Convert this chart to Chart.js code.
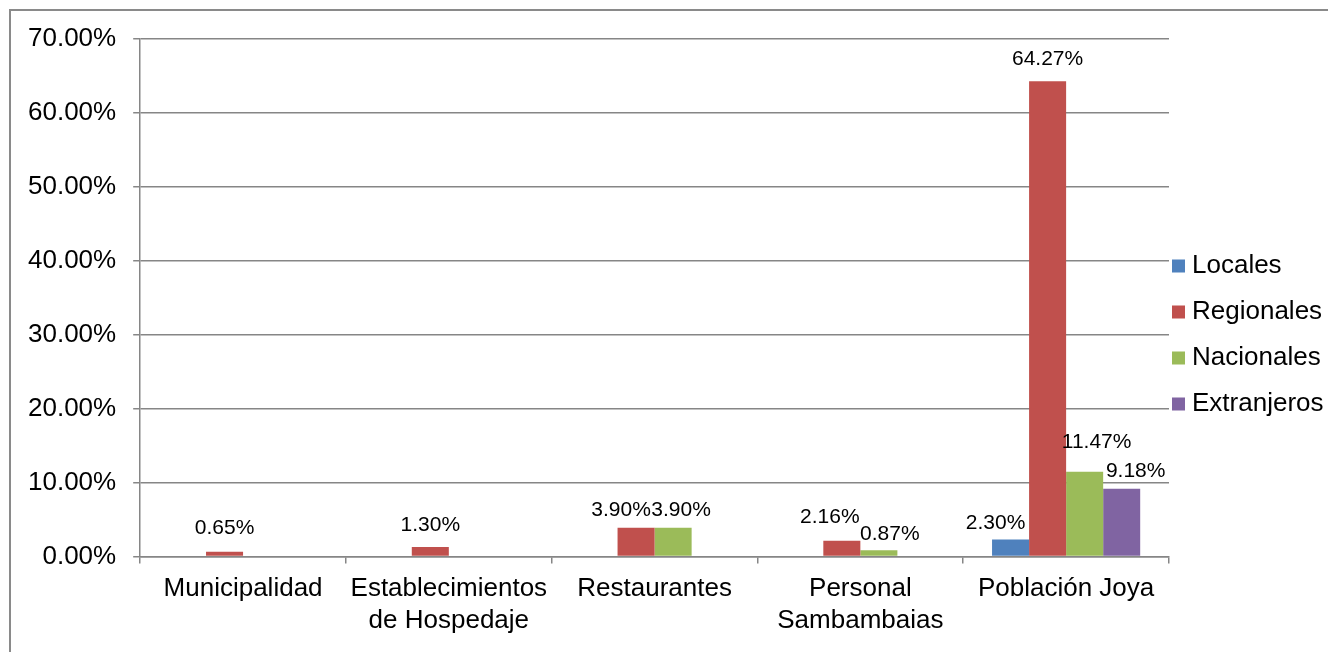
<!DOCTYPE html>
<html>
<head>
<meta charset="utf-8">
<script src="https://cdn.jsdelivr.net/npm/chart.js@4.4.1/dist/chart.umd.min.js"></script>
<style>
  html, body { margin: 0; padding: 0; background: #fff; overflow: hidden; }
  #frame { position: absolute; left: 9px; top: 9px; width: 2000px; height: 2000px;
           border-left: 2px solid #8a8a8a; border-top: 2px solid #8a8a8a; }
  #chart { position: absolute; left: 0; top: 0; }
</style>
</head>
<body>
<div id="frame"></div>
<canvas id="chart" width="1328" height="652"></canvas>
<script>
// datos
var categorias = ["Municipalidad", ["Establecimientos", "de Hospedaje"], "Restaurantes", ["Personal", "Sambambaias"], "Población Joya"];
var locales     = [0, 0, 0, 0, 2.30];
var regionales  = [0.65, 1.30, 3.90, 2.16, 64.27];
var nacionales  = [0, 0, 3.90, 0.87, 11.47];
var extranjeros = [0, 0, 0, 0, 9.18];
var yTicks = [0, 10, 20, 30, 40, 50, 60, 70];

var gris = "#868686";
var fuente = "'Liberation Sans', Arial, sans-serif";

// etiquetas de datos encima de cada barra (desplazamientos como en el original)
var etiquetasPlugin = {
    id: 'etiquetas',
    afterDatasetsDraw: function (chart, args, opts) {
        var ctx = chart.ctx;
        ctx.save();
        ctx.font = opts.size + "px " + fuente;
        ctx.fillStyle = "#000";
        ctx.textAlign = "center";
        ctx.textBaseline = "alphabetic";
        chart.data.datasets.forEach(function (ds, di) {
            var meta = chart.getDatasetMeta(di);
            meta.data.forEach(function (bar, i) {
                var v = ds.data[i];
                if (!v) return;
                var s = opts.shifts[di + "-" + i] || [0, 0];
                ctx.fillText(v.toFixed(2) + "%", bar.x + s[0], bar.y - opts.gap + s[1]);
            });
        });
        ctx.restore();
    }
};

// leyenda a la derecha
var leyendaPlugin = {
    id: 'leyenda',
    afterDraw: function (chart, args, opts) {
        var ctx = chart.ctx;
        ctx.save();
        ctx.font = opts.size + "px " + fuente;
        ctx.textBaseline = "middle";
        ctx.textAlign = "left";
        chart.data.datasets.forEach(function (ds, i) {
            var cy = opts.top + i * opts.step;
            ctx.fillStyle = ds.backgroundColor;
            ctx.fillRect(opts.x, cy - opts.box / 2, opts.box, opts.box);
            ctx.fillStyle = "#000";
            ctx.fillText(ds.label, opts.x + opts.box + 7, cy);
        });
        ctx.restore();
    }
};

var ctx = document.getElementById("chart").getContext('2d');
var grafico = new Chart(ctx, {
    type: 'bar',
    data: {
        labels: categorias,
        datasets: [
            { label: "Locales", data: locales, backgroundColor: "#4F81BD" },
            { label: "Regionales", data: regionales, backgroundColor: "#C0504D" },
            { label: "Nacionales", data: nacionales, backgroundColor: "#9BBB59" },
            { label: "Extranjeros", data: extranjeros, backgroundColor: "#8064A2" }
        ]
    },
    options: {
        responsive: false,
        animation: false,
        devicePixelRatio: 1,
        layout: { padding: { left: 11, top: 39, right: 159, bottom: 6 } },
        datasets: {
            bar: { categoryPercentage: 0.72, barPercentage: 1.0, borderWidth: 0 }
        },
        scales: {
            x: {
                grid: { display: true, drawOnChartArea: false, drawTicks: true, tickLength: 7, color: gris, lineWidth: 1.5, offset: true },
                border: { color: gris, width: 1.5 },
                ticks: { color: "#000", font: { family: fuente, size: 26, lineHeight: 1.2 }, padding: 10, maxRotation: 0, autoSkip: false }
            },
            y: {
                min: 0,
                max: 70,
                afterBuildTicks: function (axis) {
                    axis.ticks = yTicks.map(function (v) { return { value: v }; });
                },
                grid: { color: gris, lineWidth: 1.5, tickLength: 7 },
                border: { color: gris, width: 1.5 },
                ticks: {
                    color: "#000",
                    font: { family: fuente, size: 26 },
                    padding: 17,
                    callback: function (v) { return v.toFixed(2) + "%"; }
                }
            }
        },
        plugins: {
            legend: { display: false },
            tooltip: { enabled: false },
            etiquetas: {
                size: 21,
                gap: 16,
                shifts: {
                    "1-0": [0, -2],
                    "1-2": [-15, 4], "2-2": [8, 4],
                    "1-3": [-12, -2], "2-3": [11, 6],
                    "0-4": [-15, 5], "2-4": [12, -8], "3-4": [14, 4]
                }
            },
            leyenda: { x: 1172, top: 266, step: 46, box: 13, size: 26 }
        }
    },
    plugins: [etiquetasPlugin, leyendaPlugin]
});
</script>
</body>
</html>
